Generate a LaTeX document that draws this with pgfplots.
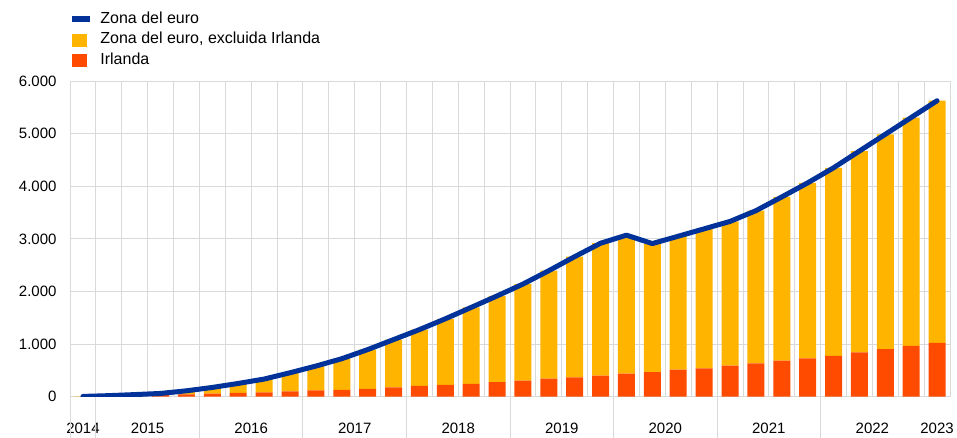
\documentclass[border=0pt]{standalone}
\usepackage{pgfplots}
\usepackage{pgfplotstable}
\pgfplotsset{compat=1.18}
\usepackage{fontspec}
\setmainfont{Liberation Sans}
\definecolor{ecbblue}{RGB}{0,50,153}
\definecolor{ecbyellow}{RGB}{255,180,0}
\definecolor{ecborange}{RGB}{255,75,0}
\definecolor{gridgray}{RGB}{217,217,217}

\pgfplotstableread{
x ire rest total
0 0 5 5
1 2 18 20
2 12 28 40
3 30 32 62
4 42 70 112
5 57 119 176
6 75 177 252
7 82 253 335
8 100 355 455
9 118 464 582
10 132 590 722
11 151 744 895
12 176 909 1085
13 208 1067 1275
14 227 1253 1480
15 246 1451 1697
16 278 1637 1915
17 304 1836 2140
18 342 2053 2395
19 367 2295 2662
20 399 2518 2917
21 437 2633 3070
22 468 2442 2910
23 513 2537 3050
24 538 2652 3190
25 589 2742 3331
26 633 2902 3535
27 684 3112 3796
28 728 3336 4064
29 778 3572 4350
30 842 3827 4669
31 905 4082 4987
32 968 4338 5306
33 1025 4600 5625
}\datatable

\begin{document}
\begin{tikzpicture}
\useasboundingbox (0,0) rectangle (957pt,438pt);
\pgfplotsset{
  common/.style={
    at={(70pt,41.3pt)}, anchor=south west,
    scale only axis, width=880pt, height=315.7pt,
    xmin=-0.5, xmax=33.5, ymin=0, ymax=6000,
  }
}
\begin{axis}[
  common,
  clip=false,
  ybar stacked, bar width=17pt,
  axis line style={draw=none},
  font=\fontsize{15}{18}\selectfont,
  ytick={0,1000,...,6000},
  scaled y ticks=false,
  yticklabel style={/pgf/number format/1000 sep={.}, /pgf/number format/assume math mode=true, xshift=-10pt},
  ymajorgrids, grid style={gridgray, line width=0.9pt},
  major y tick style={draw=none},
  xtick={0,2.5,6.5,10.5,14.5,18.5,22.5,26.5,30.5,33},
  xticklabels={2014,2015,2016,2017,2018,2019,2020,2021,2022,2023},
  major x tick style={draw=none},
  xticklabel style={anchor=base, yshift=-37pt},
  minor xtick={-0.5,0.5,...,33.5},
  xminorgrids, minor grid style={gridgray, line width=0.9pt},
  minor x tick style={draw=none},
  legend style={at={(0,1)}, anchor=north west, xshift=2pt, yshift=69pt,
    draw=none, fill=none, inner sep=0pt, outer sep=0pt, row sep=6.7pt, column sep=11pt,
    cells={anchor=west}, nodes={inner sep=0pt, text height=11pt, text depth=3pt},
    font=\fontsize{16}{18}\selectfont},
]
\addlegendimage{legend image code/.code={\fill[ecbblue] (0pt,-2.5pt) rectangle (17pt,2.5pt);}}
\addlegendentry{Zona del euro}
\addlegendimage{legend image code/.code={\fill[ecbyellow] (0pt,-6pt) rectangle (14pt,6pt);}}
\addlegendentry{Zona del euro, excluida Irlanda}
\addlegendimage{legend image code/.code={\fill[ecborange] (0pt,-6pt) rectangle (14pt,6pt);}}
\addlegendentry{Irlanda}
\addplot[fill=ecborange, draw=none, forget plot] table[x=x, y=ire] {\datatable};
\addplot[fill=ecbyellow, draw=none, forget plot] table[x=x, y=rest] {\datatable};
\pgfplotsinvokeforeach{-0.5,0.5,4.5,8.5,12.5,16.5,20.5,24.5,28.5}{
  \draw[gridgray, line width=0.9pt] (axis cs:#1,0) -- ++(0pt,-42pt);
}
\end{axis}
\begin{axis}[
  common,
  axis lines=none,
]
\addplot[ecbblue, line width=5pt, line cap=round, line join=round, mark=none] table[x=x, y=total] {\datatable};
\end{axis}
\end{tikzpicture}
\end{document}
